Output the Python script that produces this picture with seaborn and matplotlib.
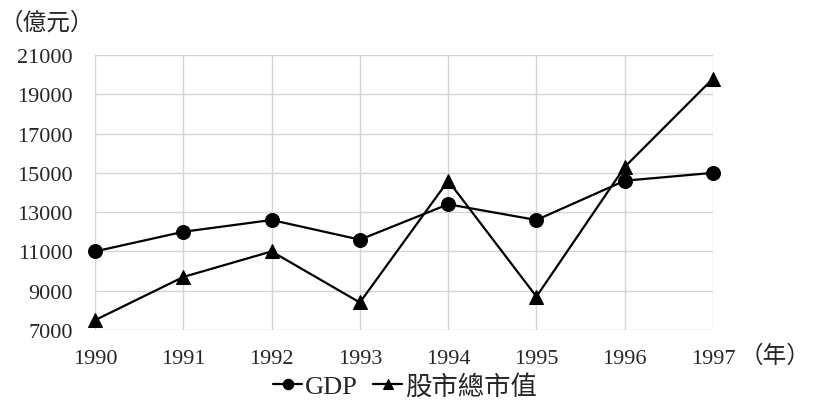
"""GDP vs stock market capitalisation, 1990-1997."""
from matplotlib import pyplot as plt
import pandas as pd
import seaborn as sns

years = [1990, 1991, 1992, 1993, 1994, 1995, 1996, 1997]
gdp = [11000, 12000, 12600, 11600, 13400, 12600, 14600, 15000]
market_cap = [7500, 9700, 11000, 8400, 14600, 8700, 15300, 19800]
series_names = ["GDP", "股市總市值"]
y_ticks = [7000, 9000, 11000, 13000, 15000, 17000, 19000, 21000]

df = pd.concat(
    [
        pd.DataFrame({"year": years, "value": gdp, "series": series_names[0]}),
        pd.DataFrame({"year": years, "value": market_cap, "series": series_names[1]}),
    ]
)

sns.set_style("white")
plt.rcParams["font.family"] = ["Liberation Serif", "Noto Sans CJK TC", "DejaVu Sans"]
cjk = ["Noto Sans CJK TC", "DejaVu Sans"]

fig = plt.figure(figsize=(8.17, 4.14), dpi=100)
ax = fig.add_axes([0.1163, 0.2005, 0.7564, 0.6642])
sns.lineplot(
    data=df,
    x="year",
    y="value",
    hue="series",
    style="series",
    markers={"GDP": "o", "股市總市值": "^"},
    dashes=False,
    palette={"GDP": "black", "股市總市值": "black"},
    markersize=10,
    markeredgecolor="black",
    linewidth=1.6,
    ax=ax,
    clip_on=False,
    zorder=3,
)

ax.set_xlim(1990, 1997)
ax.set_ylim(7000, 21000)
ax.set_xticks(years)
ax.set_yticks(y_ticks)
ax.tick_params(labelsize=16, length=0)
ax.tick_params(axis="y", pad=16)
ax.tick_params(axis="x", pad=14)
ax.grid(True, color="#d4d4d4", linewidth=1)
for s in ax.spines.values():
    s.set_visible(False)
ax.set_xlabel("")
ax.set_ylabel("")

fig.text(0.0, 0.945, "（億元）", fontsize=17, family=cjk, va="center", ha="left")
fig.text(0.905, 0.14, "（年）", fontsize=17, family=cjk, va="center", ha="left")

handles, labels = ax.get_legend_handles_labels()
ax.legend(
    handles,
    labels,
    loc="center",
    bbox_to_anchor=(405 / 817, 0.065),
    bbox_transform=fig.transFigure,
    ncol=2,
    frameon=False,
    fontsize=19,
    handlelength=1.1,
    handletextpad=0.1,
    columnspacing=0.6,
    markerscale=0.75,
)

fig.savefig("out.png", dpi=100)
